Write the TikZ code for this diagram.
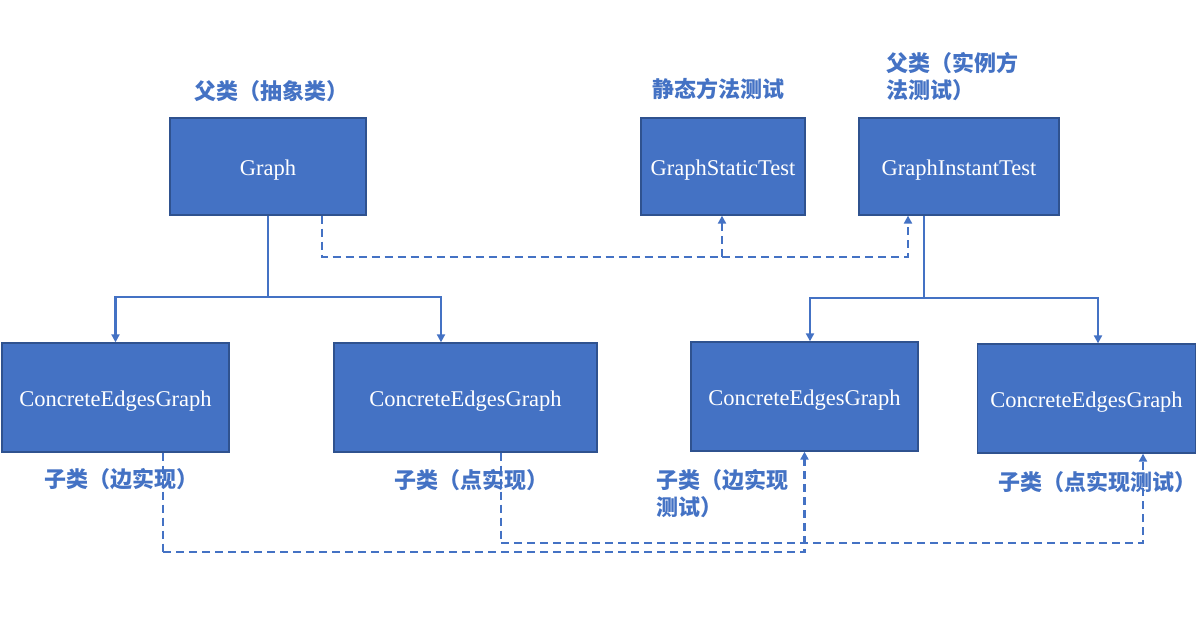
\documentclass[tikz,border=0pt]{standalone}
\usepackage{fontspec}
\setmainfont{Liberation Serif}
\newfontfamily\cjk{Noto Sans CJK SC}
\usetikzlibrary{arrows.meta}
\definecolor{boxfill}{HTML}{4472C4}
\definecolor{boxline}{HTML}{2F528F}
\definecolor{linkc}{HTML}{4472C4}
\tikzset{
  cls/.style={draw=boxline, line width=1.3pt, fill=boxfill, text=white, inner sep=0pt,
    text height=18pt, text depth=0pt, font=\fontsize{22.5}{26}\selectfont},
  lbl/.style={text=linkc, inner sep=0pt, font=\cjk\bfseries\fontsize{22}{27}\selectfont, align=left},
  sl/.style={draw=linkc, line width=2.3pt},
  dl/.style={draw=linkc, line width=2.3pt, dash pattern=on 8pt off 5pt},
  tip/.style={-{Triangle[width=8pt,length=8pt]}}
}
\begin{document}
\begin{tikzpicture}[x=1pt,y=-1pt]
\useasboundingbox (0,0) rectangle (1197,628);
% boxes
\node[cls, minimum width=196pt, minimum height=97pt] (g) at (268,166.5) {Graph};
\node[cls, minimum width=164pt, minimum height=97pt] (s) at (723,166.5) {GraphStaticTest};
\node[cls, minimum width=200pt, minimum height=97pt] (i) at (959,166.5) {GraphInstantTest};
\node[cls, minimum width=227pt, minimum height=109pt] (c1) at (115.5,397.5) {ConcreteEdgesGraph};
\node[cls, minimum width=263pt, minimum height=109pt] (c2) at (465.5,397.5) {ConcreteEdgesGraph};
\node[cls, minimum width=227pt, minimum height=109pt] (c3) at (804.5,396.5) {ConcreteEdgesGraph};
\node[cls, minimum width=218pt, minimum height=109pt] (c4) at (1086.5,398.5) {ConcreteEdgesGraph};
% labels
\node[lbl] (l1) at (271,91) {父类（抽象类）};
\node[lbl] (l2) at (718,89) {静态方法测试};
\node[lbl, anchor=north west] (l3) at (886,52) {父类（实例方\\法测试）};
\node[lbl] (l4) at (121,479) {子类（边实现）};
\node[lbl] (l5) at (471,480) {子类（点实现）};
\node[lbl, anchor=north west] (l6) at (656,469) {子类（边实现\\测试）};
\node[lbl] (l7) at (1097,482) {子类（点实现测试）};
% junctions
\coordinate (gj) at (268,297);
\coordinate (ij) at (924,298);
\coordinate (dj) at (722,257);
\coordinate (b1) at (163,552);
\coordinate (b2) at (501,543);
% solid inheritance lines
\draw[sl] (g.south) -- (gj);
\draw[sl,tip] (gj) -| (c1.north);
\draw[sl,tip] (gj) -| ([xshift=-24.5pt]c2.north);
\draw[sl] ([xshift=-35pt]i.south) -- (ij);
\draw[sl,tip] (ij) -| ([xshift=5.5pt]c3.north);
\draw[sl,tip] (ij) -| ([xshift=11.5pt]c4.north);
% dashed test lines
\draw[dl] ([xshift=54pt]g.south) |- (dj);
\draw[dl,tip] (dj) -- ([xshift=-1pt]s.south);
\draw[dl,tip] (dj) -| ([xshift=-51pt]i.south);
\draw[dl] ([xshift=47.5pt]c1.south) -- (b1);
\draw[dl,tip] (b1) -| (c3.south);
\draw[dl] ([xshift=35.5pt]c2.south) -- (b2);
\draw[dl,tip] (b2) -| ([xshift=56.5pt]c4.south);
\end{tikzpicture}
\end{document}
